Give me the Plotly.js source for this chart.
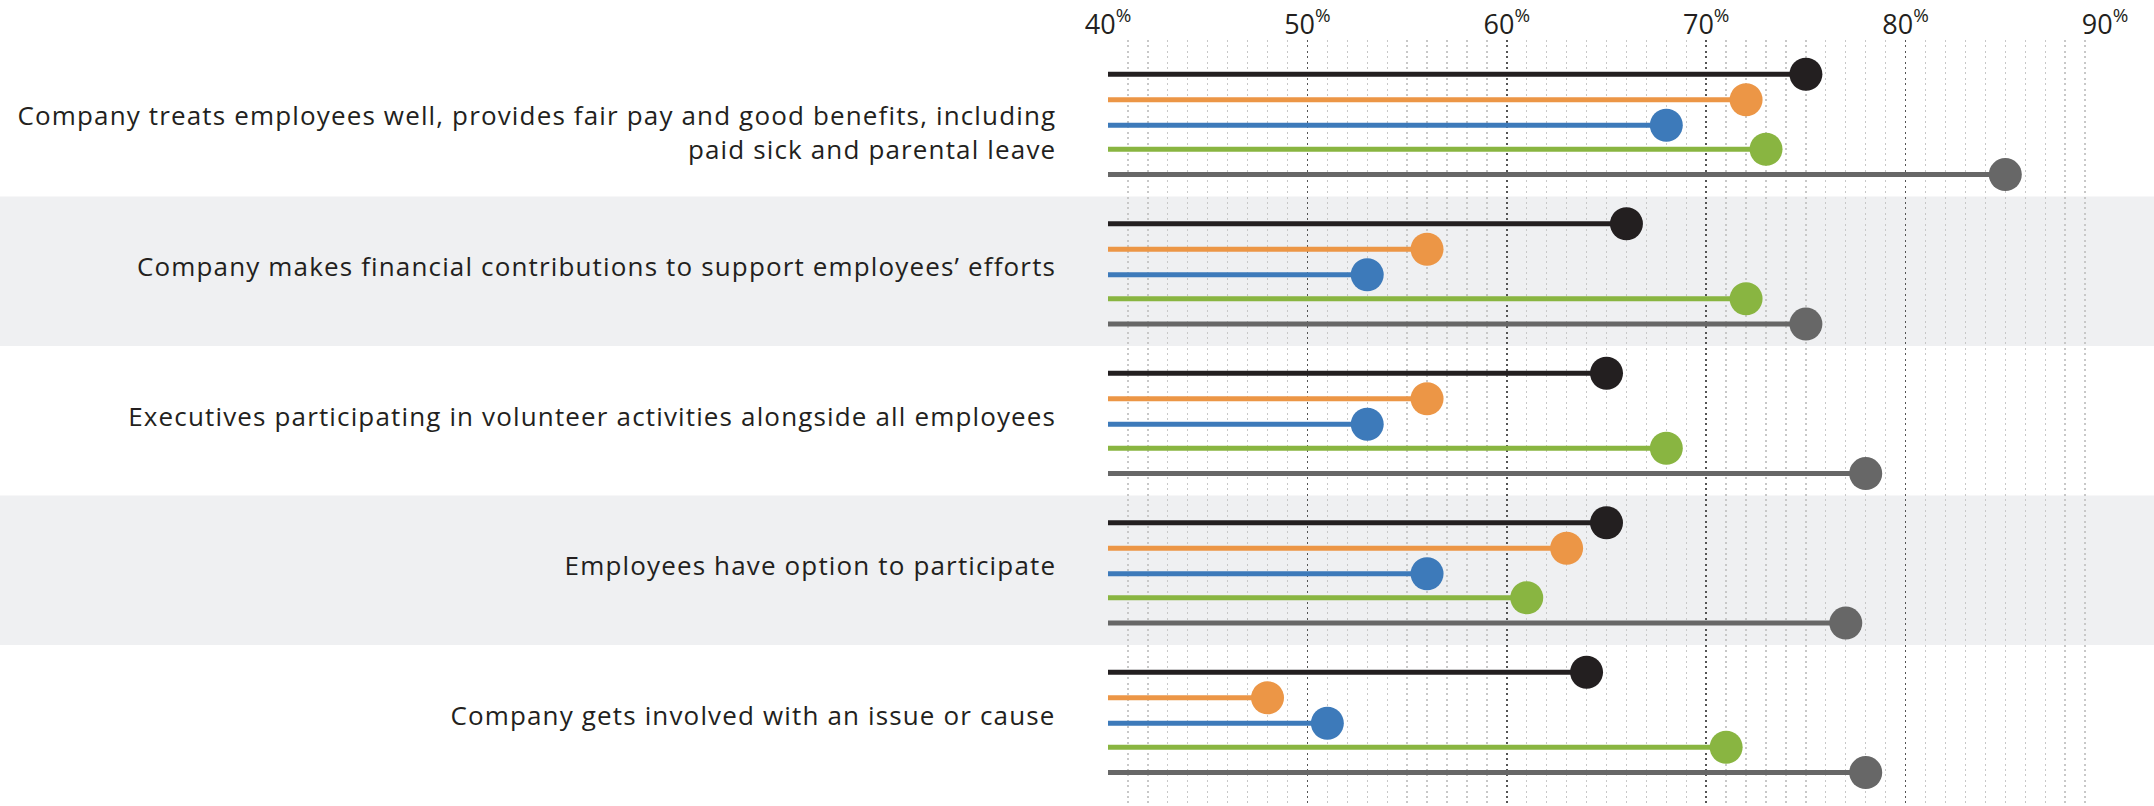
<!DOCTYPE html>
<html>
<head>
<meta charset="utf-8">
<script src="https://cdn.plot.ly/plotly-3.0.1.min.js"></script>
<style>
  html, body { margin: 0; padding: 0; background: #ffffff; }
  #chart { width: 2154px; height: 806px; }
  #chart .annotation-text { letter-spacing: 1.15px; }
</style>
</head>
<body>
<div id="chart"></div>
<script>
// ---- data ----
const categories = [
  "Company treats employees well, provides fair pay and good benefits, including<br>paid sick and parental leave",
  "Company makes financial contributions to support employees’ efforts",
  "Executives participating in volunteer activities alongside all employees",
  "Employees have option to participate",
  "Company gets involved with an issue or cause"
];
const seriesNames = ["Series 1", "Series 2", "Series 3", "Series 4", "Series 5"];
const seriesColors = ["#231f20", "#ec9646", "#3d7aba", "#89b541", "#676767"];
const series1 = [75, 66, 65, 65, 64];
const series2 = [72, 56, 56, 63, 48];
const series3 = [68, 53, 53, 56, 51];
const series4 = [73, 72, 68, 61, 71];
const series5 = [85, 75, 78, 77, 78];
const tickValues = [40, 50, 60, 70, 80, 90];
const tickLabels = ["40<sup>%</sup>", "50<sup>%</sup>", "60<sup>%</sup>", "70<sup>%</sup>", "80<sup>%</sup>", "90<sup>%</sup>"];
const axisStart = 40;

// ---- layout helpers ----
const allSeries = [series1, series2, series3, series4, series5];
const GROUP_PX = 149.5;
const rowOffsetsPx = [-51, -25.5, 0, 24, 49.3];
const centerShiftPx = 3.5;

const traces = [];
allSeries.forEach((vals, s) => {
  const lx = [], ly = [], mx = [], my = [];
  vals.forEach((v, g) => {
    const y = g + (rowOffsetsPx[s] + centerShiftPx) / GROUP_PX;
    lx.push(axisStart, v, null);
    ly.push(y, y, null);
    mx.push(v); my.push(y);
  });
  traces.push({
    type: "scatter", mode: "lines", x: lx, y: ly, name: seriesNames[s],
    line: { color: seriesColors[s], width: 5 }, hoverinfo: "skip", showlegend: false,
    cliponaxis: false
  });
  traces.push({
    type: "scatter", mode: "markers", x: mx, y: my, name: seriesNames[s],
    marker: { color: seriesColors[s], size: 33, line: { width: 0 } },
    showlegend: false, cliponaxis: false
  });
});

const shapes = [];
categories.forEach((c, g) => {
  if (g % 2 === 1) {
    shapes.push({
      type: "rect", xref: "paper", yref: "y", x0: -1.2, x1: 1.2,
      y0: g - 0.5, y1: g + 0.5, fillcolor: "#eff0f2", line: { width: 0 }, layer: "below"
    });
  }
});

const annotations = categories.map((c, g) => {
  const multi = c.indexOf("<br>") >= 0;
  const offPx = multi ? 10 : -5;
  return {
    xref: "paper", yref: "y", x: -50 / 997, y: g + offPx / GROUP_PX,
    xanchor: "right", yanchor: "middle", align: "right", showarrow: false,
    text: c, font: { family: "Open Sans, sans-serif", size: 26, color: "#231f20" }
  };
});

const yTop = -0.5 - 7 / GROUP_PX;
const yBottom = -0.5 + (806 - 47) / GROUP_PX;

const layout = {
  width: 2154, height: 806,
  margin: { l: 1108, r: 49, t: 40, b: 0, pad: 0 },
  paper_bgcolor: "#ffffff", plot_bgcolor: "rgba(0,0,0,0)",
  showlegend: false,
  xaxis: {
    range: [40, 90], side: "top", tickmode: "array",
    tickvals: tickValues, ticktext: tickLabels,
    tickfont: { family: "Open Sans, sans-serif", size: 27, color: "#231f20" },
    ticks: "", showline: false, zeroline: false,
    showgrid: true, gridcolor: "#555555", gridwidth: 1.6, griddash: "2px,3.4px",
    minor: { dtick: 1, tick0: 40, showgrid: true, gridcolor: "#c8c8c8", gridwidth: 1.3, griddash: "2px,3.4px", ticks: "" },
    fixedrange: true
  },
  yaxis: {
    range: [yBottom, yTop], showgrid: false, zeroline: false, showticklabels: false,
    showline: false, ticks: "", fixedrange: true
  },
  shapes: shapes,
  annotations: annotations
};

Plotly.newPlot("chart", traces, layout, { displayModeBar: false, staticPlot: true });
</script>
</body>
</html>
